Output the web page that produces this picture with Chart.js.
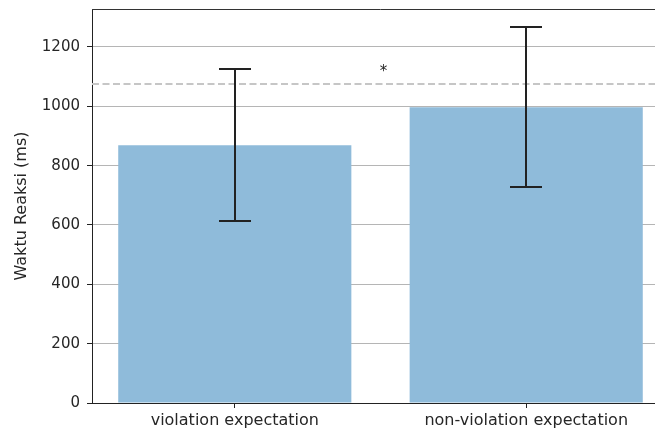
<!DOCTYPE html>
<html>
<head>
<meta charset="utf-8">
<script src="https://cdn.jsdelivr.net/npm/chart.js@4/dist/chart.umd.min.js"></script>
<style>
  html, body { margin: 0; padding: 0; background: #fff; overflow: hidden; width: 655px; height: 429px; }
  canvas { display: block; }
</style>
</head>
<body>
<canvas id="c" width="670" height="429"></canvas>
<script>
// ---- data ----
const categories = ["violation expectation", "non-violation expectation"];
const means = [869, 997];
const errors = [257, 269];
const yTicks = [0, 200, 400, 600, 800, 1000, 1200];
const yMax = 1328;
const refLine = 1075;          // dashed reference line value
const sigLabel = "*";
const sigPos = [0.51, 1102];    // x (between categories), y value

const FONT = "'DejaVu Sans', sans-serif";
const TEXT = "#262626";

const overlay = {
  id: 'overlay',
  afterDraw(chart) {
    const ctx = chart.ctx;
    const xs = chart.scales.x, ys = chart.scales.y;
    const area = chart.chartArea;
    ctx.save();
    // dashed reference line
    ctx.strokeStyle = '#c6c6c6';
    ctx.lineWidth = 2;
    ctx.setLineDash([7, 3.5]);
    const yr = Math.round(ys.getPixelForValue(refLine));
    ctx.beginPath();
    ctx.moveTo(area.left, yr);
    ctx.lineTo(area.right, yr);
    ctx.stroke();
    ctx.setLineDash([]);
    // error bars
    ctx.strokeStyle = '#222';
    ctx.lineWidth = 2;
    means.forEach((m, i) => {
      const x = Math.round(xs.getPixelForValue(i));
      const yt = Math.round(ys.getPixelForValue(m + errors[i]));
      const yb = Math.round(ys.getPixelForValue(m - errors[i]));
      ctx.beginPath();
      ctx.moveTo(x, yt); ctx.lineTo(x, yb);
      ctx.moveTo(x - 16, yt); ctx.lineTo(x + 16, yt);
      ctx.moveTo(x - 16, yb); ctx.lineTo(x + 16, yb);
      ctx.stroke();
    });
    // significance marker
    ctx.fillStyle = TEXT;
    ctx.font = "15px " + FONT;
    ctx.textAlign = 'center';
    ctx.textBaseline = 'alphabetic';
    ctx.fillText(sigLabel, xs.getPixelForValue(sigPos[0]), ys.getPixelForValue(sigPos[1]));
    // top spine
    ctx.strokeStyle = '#333';
    ctx.lineWidth = 1;
    ctx.beginPath();
    ctx.moveTo(area.left, area.top + 0.5);
    ctx.lineTo(area.right, area.top + 0.5);
    ctx.stroke();
    ctx.restore();
  }
};

new Chart(document.getElementById('c'), {
  type: 'bar',
  data: {
    datasets: [{
      data: means.map((m, i) => ({ x: i, y: m })),
      backgroundColor: 'rgb(143,187,218)',
      borderWidth: 0,
      barPercentage: 0.8,
      categoryPercentage: 1.0
    }]
  },
  options: {
    responsive: false,
    animation: false,
    devicePixelRatio: 1,
    layout: { padding: { top: 9, right: 1, left: 0, bottom: 0 } },
    plugins: { legend: { display: false }, tooltip: { enabled: false } },
    scales: {
      x: {
        type: 'linear',
        min: -0.49,
        max: 1.49,
        offset: false,
        afterBuildTicks: (s) => { s.ticks = categories.map((_, i) => ({ value: i })); },
        afterFit: (s) => { s.height = 26; s.paddingLeft = 0; s.paddingRight = 0; },
        grid: { display: true, offset: false, drawOnChartArea: false, drawTicks: true, tickLength: 5, tickColor: '#222', tickWidth: 1 },
        border: { display: true, color: '#222', width: 1 },
        ticks: {
          color: TEXT,
          font: { family: FONT, size: 16 },
          padding: 3,
          maxRotation: 0,
          autoSkip: false,
          callback: (v) => categories[v]
        }
      },
      y: {
        min: 0,
        max: yMax,
        z: 1,
        afterBuildTicks: (s) => { s.ticks = yTicks.map(v => ({ value: v })); },
        afterFit: (s) => { s.width = 92; s.paddingTop = 0; s.paddingBottom = 0; },
        grid: { color: 'rgba(150,150,150,0.7)', lineWidth: 1, drawTicks: true, tickLength: 5, tickColor: '#222' },
        border: { display: true, color: '#222', width: 1 },
        ticks: {
          color: TEXT,
          font: { family: FONT, size: 15 },
          padding: 7,
          callback: (v) => String(v)
        },
        title: {
          display: true,
          text: 'Waktu Reaksi (ms)',
          color: TEXT,
          font: { family: FONT, size: 16 },
          padding: { top: 12, bottom: 0 }
        }
      }
    }
  },
  plugins: [overlay]
});
</script>
</body>
</html>
